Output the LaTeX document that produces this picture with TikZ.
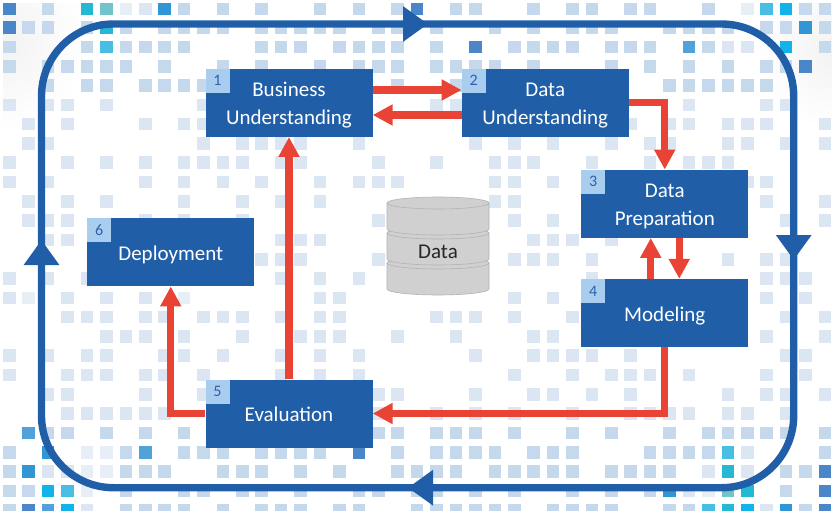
\documentclass[tikz,border=0pt]{standalone}
\usepackage{fontspec}
\setmainfont{Carlito}
\usetikzlibrary{arrows.meta}
\definecolor{boxblue}{HTML}{205FA8}
\definecolor{tagblue}{HTML}{A9CDEE}
\definecolor{numblue}{HTML}{2F62AA}
\definecolor{arrowred}{HTML}{E94335}
\definecolor{discgray}{HTML}{D0D0D0}
\definecolor{discedge}{HTML}{B2B2B2}
\definecolor{sqmid}{HTML}{C6D8EC}
\definecolor{sqlight}{HTML}{DBE6F2}
\definecolor{sqfaint}{HTML}{E8EEF5}
\definecolor{sqdeep}{HTML}{4A86C8}
\definecolor{sqsky}{HTML}{52A2DA}
\definecolor{sqazure}{HTML}{3096D6}
\definecolor{sqcyan}{HTML}{10B4E8}
\definecolor{sqteal}{HTML}{24B8D2}
\definecolor{sqaqua}{HTML}{48BEE2}
\definecolor{sqmint}{HTML}{70C4CA}
\tikzset{
    stagebox/.style={draw=none, fill=boxblue, text=white, align=center, inner sep=0pt, minimum width=167pt, minimum height=68pt, font=\fontsize{21}{27.5}\selectfont, text height=16pt, text depth=0pt},
    twolines/.style={text height=43pt},
    stagetag/.style={fill=tagblue, text=numblue, inner sep=0pt, minimum size=24pt, anchor=north west, font=\fontsize{16}{16}\selectfont},
    redarrow/.style={draw=arrowred, line width=7.4pt, -{Triangle[length=20pt,width=20pt]}},
    looparrow/.style={draw=boxblue, line width=7.4pt, rounded corners=72pt, -{Triangle[length=25pt,width=34pt]}},
    discface/.style={fill=discgray, draw=discedge, line width=0.6pt}
}
\begin{document}
\begin{tikzpicture}[x=1pt, y=-1pt]
    \useasboundingbox (0,0) rectangle (836,514);
    \begin{scope}
        \clip (3,3.5) rectangle (831.5,510.5);
        \shade [inner color=black!5, outer color=white] (0,40) circle (90);
        \shade [inner color=black!5, outer color=white] (836,50) circle (80);
        \foreach \r/\tone/\cols in {
            0/sqmid/{2,9,11,13,16,18,20,23,24,27,29,30,32,33,36,41,42},
            1/sqmid/{1,2,4,6,8,9,10,11,13,14,15,16,17,19,20,22,25,27,29,30,31,34,35,36,37,39,40,42},
            2/sqmid/{0,4,6,7,8,9,13,14,15,17,18,19,20,22,26,27,28,29,31,32,33,36,42},
            3/sqmid/{0,2,3,4,5,6,8,11,13,16,18,19,20,22,23,24,25,27,31,33,35,37,39,40},
            4/sqmid/{2,4,5,7,8,9,10,20,23,34,35,36,37,38,39},
            5/sqlight/{0,2,3,5,10,22,23,35,39,40},
            6/sqlight/{1,3,7,9,10,32,34,35,37,38,39,42},
            7/sqlight/{1,2,10,12,13,14,15,18,24,26,28,31,33,34,37,38,40,42},
            8/sqlight/{0,3,5,7,9,10,11,12,14,15,19,22,25,26,27,30,33,35,36,37},
            9/sqlight/{0,2,7,9,11,13,16,18,19,20,25,26,28,38,39},
            10/sqlight/{1,3,5,9,12,14,16,25,26,39,42},
            11/sqlight/{1,2,3,7,9,12,19,26,28,40,42},
            12/sqlight/{2,3,14,15,16,27,28,29,31},
            13/sqlight/{13,14,15,19,26,27,28,30,37,39,40},
            14/sqlight/{0,2,4,14,16,18,30,39,40,41},
            15/sqlight/{0,3,5,7,16,17,26,28,39,41},
            16/sqlight/{3,4,5,7,8,10,11,12,14,16,17,22,23,24,26,29,40,42},
            17/sqlight/{5,6,7,9,12,15,16,17,20,23,27,28,39,42},
            18/sqlight/{0,2,4,5,8,9,11,14,16,18,24,27,28,29,30,32,40,41},
            19/sqlight/{0,3,4,5,7,8,10,14,16,18,26,29,31,32,33,35,39,41},
            20/sqlight/{2,3,7,10,19,20,24,27,28,30,32,37,39,40,42},
            21/sqlight/{3,4,5,6,7,8,19,22,24,26,29,32,33,34,35,37,38,40},
            22/sqmid/{2,3,5,7,9,19,20,22,23,24,26,29,31,34,36,37,38,39,40,42},
            23/sqmid/{0,6,9,10,11,13,14,15,16,20,22,23,24,25,27,28,29,33,34,35,36,42},
            24/sqmid/{0,6,7,8,11,12,13,15,17,20,21,22,23,25,26,27,28,29,31,32,33,34,40,41},
            25/sqmid/{0,1,6,9,10,12,13,15,18,19,21,22,24,26,29,31,33,40},
            26/sqmid/{0,6,7,8,9,11,13,14,15,17,18,21,22,23,24,25,26,28,29,30,31,34,35,41}}
            \foreach \c in \cols
                \fill [\tone] ({3+19.42*\c},{2+19.3*\r}) rectangle +(12.6,12.6);
        \foreach \c/\r/\tone in {
            0/0/sqdeep, 4/0/sqteal, 5/0/sqmint, 6/0/sqfaint, 7/0/sqlight, 8/0/sqazure, 21/0/sqdeep, 38/0/sqfaint, 39/0/sqaqua, 40/0/sqcyan,
            0/1/sqdeep, 5/1/sqteal, 41/1/sqazure,
            5/2/sqaqua, 24/2/sqdeep, 35/2/sqsky, 37/2/sqlight, 38/2/sqlight, 40/2/sqcyan, 41/3/sqdeep,
            1/15/sqfaint, 9/15/sqfaint, 1/22/sqsky,
            2/23/sqazure, 4/23/sqfaint, 5/23/sqfaint, 7/23/sqsky, 18/23/sqdeep, 37/23/sqaqua, 38/23/sqlight,
            1/24/sqazure, 2/24/sqlight, 3/24/sqlight, 4/24/sqfaint, 5/24/sqfaint, 36/24/sqlight, 37/24/sqteal, 38/24/sqlight, 42/24/sqdeep,
            2/25/sqcyan, 3/25/sqaqua, 4/25/sqfaint, 34/25/sqazure, 35/25/sqlight, 36/25/sqfaint, 37/25/sqmint, 38/25/sqteal, 42/25/sqdeep,
            1/26/sqdeep, 2/26/sqsky, 3/26/sqcyan, 4/26/sqlight, 36/26/sqaqua, 37/26/sqteal, 38/26/sqcyan, 39/26/sqlight, 40/26/sqazure, 42/26/sqdeep}
            \fill [\tone] ({3+19.42*\c},{2+19.3*\r}) rectangle +(12.6,12.6);
    \end{scope}

    \coordinate (tipleft) at (41.5,240);
    \coordinate (tiptop) at (428,24);
    \coordinate (tipright) at (793.7,260);
    \coordinate (tipbottom) at (408,487.7);
    \draw [looparrow] ([yshift=-12pt]tipleft) |- (tiptop);
    \draw [looparrow] ([xshift=-12pt]tiptop) -| (tipright);
    \draw [looparrow] ([yshift=12pt]tipright) |- (tipbottom);
    \draw [looparrow] ([xshift=12pt]tipbottom) -| (tipleft);

    \foreach \yt in {263,233,203} {
        \draw [discface] (387,\yt) -- (387,\yt+26) arc [start angle=180, end angle=0, x radius=51, y radius=6] -- (489,\yt) arc [start angle=0, end angle=-180, x radius=51, y radius=6] -- cycle;
        \draw [discedge, line width=0.6pt] (387,\yt) arc [start angle=180, end angle=0, x radius=51, y radius=6];
    }
    \node (datalabel) at (438,252) [text=black!85, font=\fontsize{21}{24}\selectfont] {Data};

    \node [stagebox, twolines] (business) at (289,102.75) {Business\\Understanding};
    \node [stagebox, twolines] (dataund) at (545.25,102.75) {Data\\Understanding};
    \node [stagebox, twolines] (dataprep) at (664.75,203.75) {Data\\Preparation};
    \node [stagebox] (modeling) at (664.75,313) {Modeling};
    \node [stagebox] (evaluation) at (289,413.5) {Evaluation};
    \node [stagebox] (deployment) at (170.75,252.25) {Deployment};

    \node at (business.north west) [stagetag] (tagone) {1};
    \node at (dataund.north west) [stagetag] (tagtwo) {2};
    \node at (dataprep.north west) [stagetag] (tagthree) {3};
    \node at (modeling.north west) [stagetag] (tagfour) {4};
    \node at (evaluation.north west) [stagetag] (tagfive) {5};
    \node at (deployment.north west) [stagetag] (tagsix) {6};

    \draw [redarrow] ([yshift=12.75pt]business.east) -- ([yshift=12.75pt]dataund.west);
    \draw [redarrow] ([yshift=-12.25pt]dataund.west) -- ([yshift=-12.25pt]business.east);
    \draw [redarrow] (dataund.east) -| (dataprep.north);
    \draw [redarrow] ([xshift=-14pt]modeling.north) -- ([xshift=-14pt]dataprep.south);
    \draw [redarrow] ([xshift=14.5pt]dataprep.south) -- ([xshift=14.5pt]modeling.north);
    \draw [redarrow] (modeling.south) |- (evaluation.east);
    \draw [redarrow] (evaluation.north) -- (business.south);
    \draw [redarrow] (evaluation.west) -| (deployment.south);
\end{tikzpicture}
\end{document}
